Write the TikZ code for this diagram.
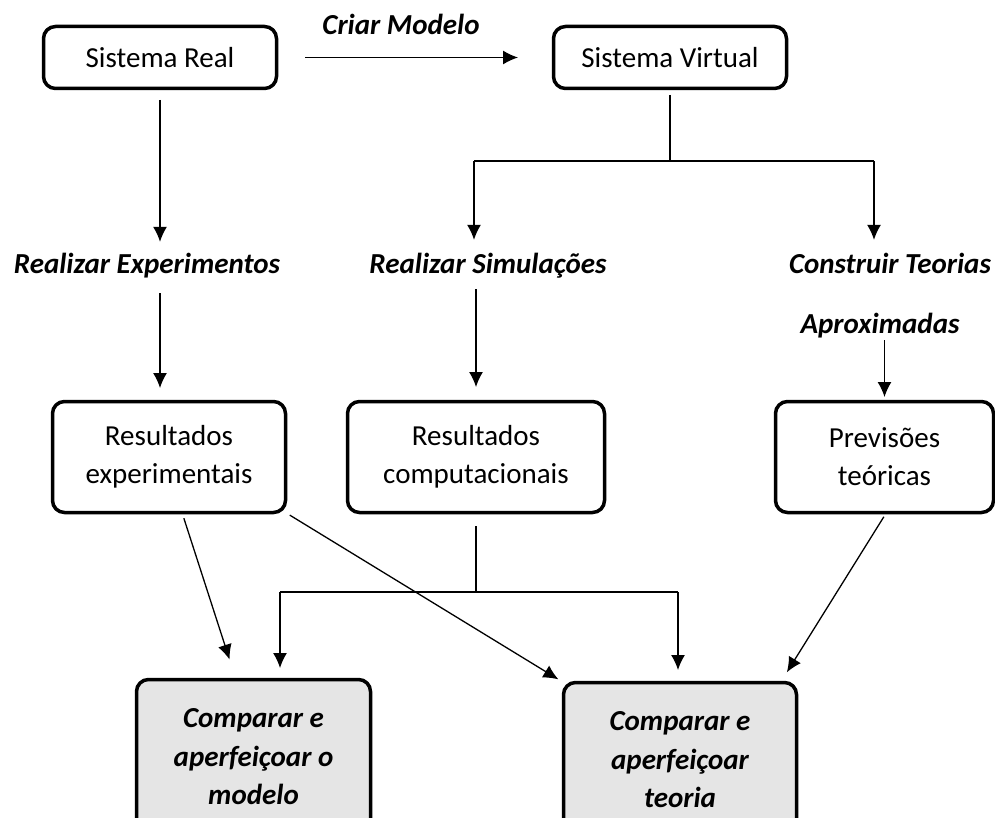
\documentclass[tikz,border=0pt]{standalone}
\usepackage{fontspec}
\setmainfont{Carlito}
\usetikzlibrary{arrows.meta}

\tikzstyle{caixa} = [rectangle,rounded corners=12pt,line width=3.5pt,draw=black,align=center,outer sep=0pt,inner sep=0pt,font=\fontsize{29}{38}\selectfont]
\tikzstyle{comparar} = [caixa,fill=black!10,font=\fontsize{29}{38.5}\selectfont\bfseries\itshape]
\tikzstyle{acao} = [inner sep=0pt,text height=20pt,text depth=6pt,font=\fontsize{29}{34}\selectfont\bfseries\itshape]
\tikzstyle{seta} = [line width=1.3pt]

\begin{document}
\begin{tikzpicture}[x=1pt,y=-1pt,>={Latex[length=15pt,width=14pt]}]

	\useasboundingbox (0,0) rectangle (995,818);
	\clip (0,0) rectangle (995,818);

	% caixas
	\node (real) [caixa,minimum width=233,minimum height=62] at (160,57.5) {Sistema Real};
	\node (virtual) [caixa,minimum width=233,minimum height=62] at (670,57.5) {Sistema Virtual};
	\node (exper) [caixa,minimum width=233,minimum height=111] at (169,457) {Resultados\\experimentais};
	\node (comput) [caixa,minimum width=257,minimum height=111] at (476,457) {Resultados\\computacionais};
	\node (previs) [caixa,minimum width=218,minimum height=111] at (884.5,457) {Previsões\\teóricas};
	\node (modelo) [comparar,minimum width=234,minimum height=155] at (253.5,757) {Comparar e\\aperfeiçoar o\\modelo};
	\node (teoria) [comparar,minimum width=233,minimum height=155] at (680,760) {Comparar e\\aperfeiçoar\\teoria};

	% rotulos
	\node (criar) [acao] at (401,28) {Criar Modelo};
	\node (explbl) [acao] at (147,266) {Realizar Experimentos};
	\node (simlbl) [acao] at (488,266) {Realizar Simulações};
	\node (teorlbl) [acao] at (890,266) {Construir Teorias};
	\node (aproxlbl) [acao] at (880,326) {Aproximadas};

	\coordinate (vsplit) at (670,161);
	\coordinate (vsplitL) at (474,161);
	\coordinate (vsplitR) at (874,161);
	\coordinate (csplit) at (476,592);
	\coordinate (csplitL) at (280,592);
	\coordinate (csplitR) at (678,592);

	\draw[seta,->,shorten <=28.5pt,shorten >=35.5pt] (real) -- (virtual);

	\draw[seta,->,shorten <=11.5pt,shorten >=11pt] (real) -- (real |- explbl.north);
	\draw[seta,->,shorten <=14pt,shorten >=13.5pt] (explbl.south -| real) -- (exper.north -| real);

	\draw[seta,shorten <=6.5pt] (virtual) -- (vsplit);
	\draw[seta] (vsplitL) -- (vsplitR);
	\draw[seta,->,shorten >=13pt] (vsplitL) -- (vsplitL |- simlbl.north);
	\draw[seta,->,shorten >=13pt] (vsplitR) -- (vsplitR |- teorlbl.north);

	\draw[seta,->,shorten <=10pt,shorten >=14.5pt] (simlbl.south -| comput) -- (comput);
	\draw[seta,->,shorten <=1pt,shorten >=4.5pt] (aproxlbl.south -| previs) -- (previs);

	\draw[seta,->,shorten <=6pt,shorten >=21pt] ([xshift=13pt]exper.south) -- ([xshift=-17.5pt]modelo.north);
	\draw[seta,->,shorten <=5pt,shorten >=6pt] (exper.south east) -- (teoria.north west);

	\draw[seta,shorten <=13.5pt] (comput) -- (csplit);
	\draw[seta] (csplitL) -- (csplitR);
	\draw[seta,->,shorten >=11.5pt] (csplitL) -- (modelo.north -| csplitL);
	\draw[seta,->,shorten >=12.5pt] (csplitR) -- (teoria.north -| csplitR);

	\draw[seta,->,shorten <=5pt,shorten >=12pt] ([xshift=2pt]previs.south) -- ([xshift=-16pt]teoria.north east);

\end{tikzpicture}
\end{document}
